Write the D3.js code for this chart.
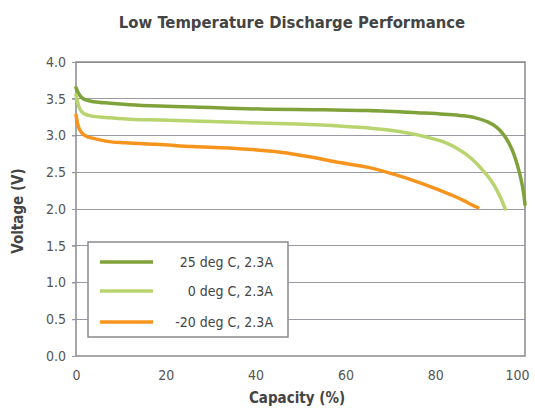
<!DOCTYPE html>
<html><head><meta charset="utf-8">
<script src="https://cdn.jsdelivr.net/npm/d3@7"></script>
<style>
body{margin:0;background:#fff;}
text{font-family:"DejaVu Sans Condensed","Liberation Sans Narrow",sans-serif;}
</style></head><body>
<svg id="c" width="535" height="414"></svg>
<script>
const title = "Low Temperature Discharge Performance";
const xLabel = "Capacity (%)";
const yLabel = "Voltage (V)";
const xTicks = [0,20,40,60,80,100];
const yTicks = [0,0.5,1,1.5,2,2.5,3,3.5,4];
const seriesNames = ["25 deg C, 2.3A","0 deg C, 2.3A","-20 deg C, 2.3A"];
const seriesColors = ["#7fa33a","#b8d46e","#f7941d"];
const cap25 = [0,0.5,1.2,2.4,4,7.6,12,18.7,30,41,55,65,76,82,86,89,91.5,93.5,95,96.3,97.3,98.2,98.9,99.4,99.8,100];
const v25   = [3.65,3.58,3.52,3.48,3.46,3.44,3.42,3.40,3.38,3.36,3.35,3.34,3.31,3.29,3.27,3.24,3.19,3.12,3.03,2.91,2.78,2.62,2.46,2.32,2.17,2.06];
const cap0 = [0,0.5,1.2,2.4,4,7.6,12,18.7,30,41,52,61,70,78,82,85,88,90.7,92.5,93.7,94.6,95.2,95.6];
const v0   = [3.55,3.42,3.33,3.28,3.26,3.24,3.22,3.21,3.19,3.17,3.15,3.12,3.07,2.98,2.91,2.82,2.69,2.52,2.38,2.26,2.15,2.06,2.00];
const capM20 = [0,0.4,0.9,2,3.9,7,11,18,26,34,41,46,52,58,64.8,72,76,80.4,84,86.5,88.4,89.5];
const vM20   = [3.28,3.15,3.07,3.0,2.96,2.92,2.90,2.88,2.85,2.83,2.80,2.77,2.71,2.64,2.57,2.45,2.37,2.27,2.18,2.11,2.05,2.02];

const svg = d3.select("#c");
const L=76,R=525,T=62,B=356;
const x = d3.scaleLinear().domain([0,100]).range([L,R]);
const y = d3.scaleLinear().domain([0,4]).range([B,T]);
const grey="#8a8a8a", txt="#555";

svg.append("text").attr("x",292).attr("y",28).attr("text-anchor","middle")
  .attr("font-size",16.5).attr("font-weight","bold").attr("fill","#444").text(title);

// grid
svg.append("g").selectAll("line").data(yTicks.filter(d=>d>0)).join("line")
  .attr("x1",L-4).attr("x2",R).attr("y1",d=>y(d)).attr("y2",d=>y(d))
  .attr("stroke","#9a9aa6").attr("stroke-width",1).attr("shape-rendering","crispEdges");

// frame
svg.append("rect").attr("x",L).attr("y",T).attr("width",R-L).attr("height",B-T)
  .attr("fill","none").attr("stroke",grey).attr("stroke-width",1.5);

// axes
const yAx = svg.append("g").attr("transform",`translate(${L},0)`)
  .call(d3.axisLeft(y).tickValues(yTicks).tickFormat(d3.format(".1f")).tickSize(4).tickPadding(6));
const xAx = svg.append("g").attr("transform",`translate(0,${B})`)
  .call(d3.axisBottom(x).tickValues(xTicks).tickSize(0).tickPadding(14));
[yAx,xAx].forEach(a=>{
  a.select(".domain").remove();
  a.selectAll("line").attr("stroke","#999");
  a.selectAll("text").attr("font-size",14).attr("fill",txt).attr("font-family","DejaVu Sans Condensed, sans-serif");
});
xAx.selectAll("text").filter(d=>d===100).attr("dx",-8);

svg.append("text").attr("x",297).attr("y",403).attr("text-anchor","middle")
  .attr("font-size",15).attr("font-weight","bold").attr("fill","#444").text(xLabel);
svg.append("text").attr("transform","translate(23,211) rotate(-90)").attr("text-anchor","middle")
  .attr("font-size",15).attr("font-weight","bold").attr("fill","#444").text(yLabel);

// lines
const line = d3.line().x(d=>x(d[0])).y(d=>y(d[1])).curve(d3.curveMonotoneX);
const sets = [[cap25,v25],[cap0,v0],[capM20,vM20]];
sets.forEach((s,i)=>{
  svg.append("path").datum(s[0].map((c,j)=>[c,s[1][j]]))
    .attr("d",line).attr("fill","none").attr("stroke",seriesColors[i])
    .attr("stroke-width",3.5).attr("stroke-linejoin","round").attr("stroke-linecap","round");
});

// legend
const lg = svg.append("g");
lg.append("rect").attr("x",88).attr("y",242).attr("width",200).attr("height",95)
  .attr("fill","#fff").attr("stroke",grey).attr("stroke-width",1.5);
const rowsY=[262,291,322];
seriesNames.forEach((n,i)=>{
  lg.append("line").attr("x1",100).attr("x2",153).attr("y1",rowsY[i]).attr("y2",rowsY[i])
    .attr("stroke",seriesColors[i]).attr("stroke-width",3.5);
  lg.append("text").attr("x",273).attr("y",rowsY[i]+5).attr("text-anchor","end")
    .attr("font-size",14).attr("fill","#444").text(n);
});
</script></body></html>
